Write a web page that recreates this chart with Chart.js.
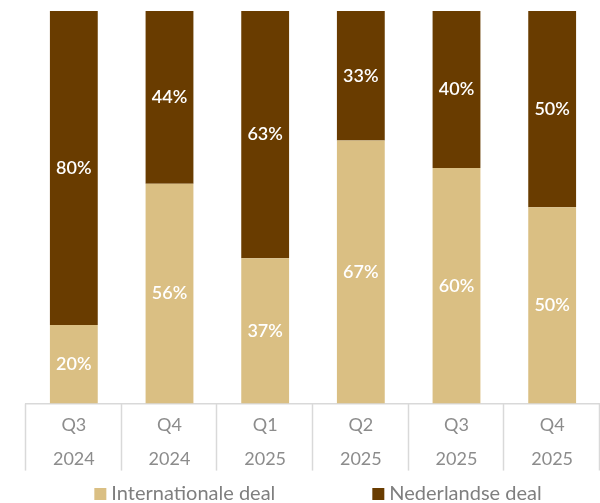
<!DOCTYPE html>
<html><head><meta charset="utf-8">
<script src="https://cdn.jsdelivr.net/npm/chart.js@4.4.1/dist/chart.umd.min.js"></script>
<style>html,body{margin:0;padding:0;background:#fff}#wrap{width:600px;height:503px}</style>
</head><body><div id="wrap"><canvas id="c"></canvas></div>
<script>
const quarters = ['Q3','Q4','Q1','Q2','Q3','Q4'];
const years = ['2024','2024','2025','2025','2025','2025'];
const internationale = [20,56,37,67,60,50];
const nederlandse = [80,44,63,33,40,50];
const seriesNames = ['Internationale deal','Nederlandse deal'];
const seriesColors = ['#DABF83','#693C00'];

const FONT = "Lato, 'Open Sans', sans-serif";
const labelPlugin = {
  id:'valueLabels',
  afterDatasetsDraw(chart){
    const ctx = chart.ctx;
    ctx.save();
    ctx.fillStyle = '#ffffff';
    ctx.font = "600 18px " + FONT;
    ctx.textAlign='center'; ctx.textBaseline='middle';
    chart.data.datasets.forEach((ds,i)=>{
      chart.getDatasetMeta(i).data.forEach((bar,j)=>{
        const y = (bar.y + bar.base)/2;
        ctx.fillText(ds.data[j] + '%', bar.x, y);
      });
    });
    ctx.restore();
  }
};
const sepPlugin = {
  id:'separators',
  afterDraw(chart){
    const xs = chart.scales.x, ctx = chart.ctx;
    const n = xs.ticks.length;
    const w = (xs.right - xs.left)/n;
    ctx.save();
    ctx.strokeStyle = '#d9d9d9'; ctx.lineWidth = 1.5;
    for(let k=0;k<=n;k++){
      const x = Math.round(xs.left + k*w) - 0.5;
      ctx.beginPath(); ctx.moveTo(x, xs.top); ctx.lineTo(x, xs.top+67); ctx.stroke();
    }
    ctx.restore();
  }
};
const legendPlugin = {
  id:'customLegend',
  afterDraw(chart){
    const ctx = chart.ctx;
    ctx.save();
    ctx.font = "20px " + FONT;
    ctx.textBaseline = 'middle';
    const box = 12, gapText = 5, gapItem = 97;
    const widths = chart.data.datasets.map(ds => box + gapText + ctx.measureText(ds.label).width);
    const total = widths.reduce((a,b)=>a+b,0) + gapItem*(widths.length-1);
    const cx = (chart.chartArea.left + chart.chartArea.right)/2 + 5;
    let x = cx - total/2;
    const y = chart.height - 9;
    chart.data.datasets.forEach((ds,i)=>{
      ctx.fillStyle = ds.backgroundColor;
      ctx.fillRect(x, y - box/2, box, box);
      ctx.fillStyle = '#7f7f7f';
      ctx.fillText(ds.label, x + box + gapText, y);
      x += widths[i] + gapItem;
    });
    ctx.restore();
  }
};

new Chart(document.getElementById('c'), {
  type:'bar',
  data:{
    labels: quarters.map((q,i)=>[q, years[i]]),
    datasets:[
      {label:seriesNames[0], data:internationale, backgroundColor:seriesColors[0]},
      {label:seriesNames[1], data:nederlandse, backgroundColor:seriesColors[1]}
    ]
  },
  options:{
    responsive:true, maintainAspectRatio:false, animation:false,
    layout:{padding:{left:26,right:0,top:11,bottom:23}},
    datasets:{bar:{categoryPercentage:1, barPercentage:0.5}},
    plugins:{
      tooltip:{enabled:false},
      legend:{display:false}
    },
    scales:{
      x:{stacked:true,
        grid:{display:true, drawOnChartArea:false, drawTicks:false},
        border:{color:'#d9d9d9', width:1.5},
        ticks:{color:'#8c8c8c', padding:4, font:{family:FONT, size:18, lineHeight:1.9}}
      },
      y:{stacked:true, display:false, min:0, max:100}
    }
  },
  plugins:[labelPlugin, sepPlugin, legendPlugin]
});
</script></body></html>
